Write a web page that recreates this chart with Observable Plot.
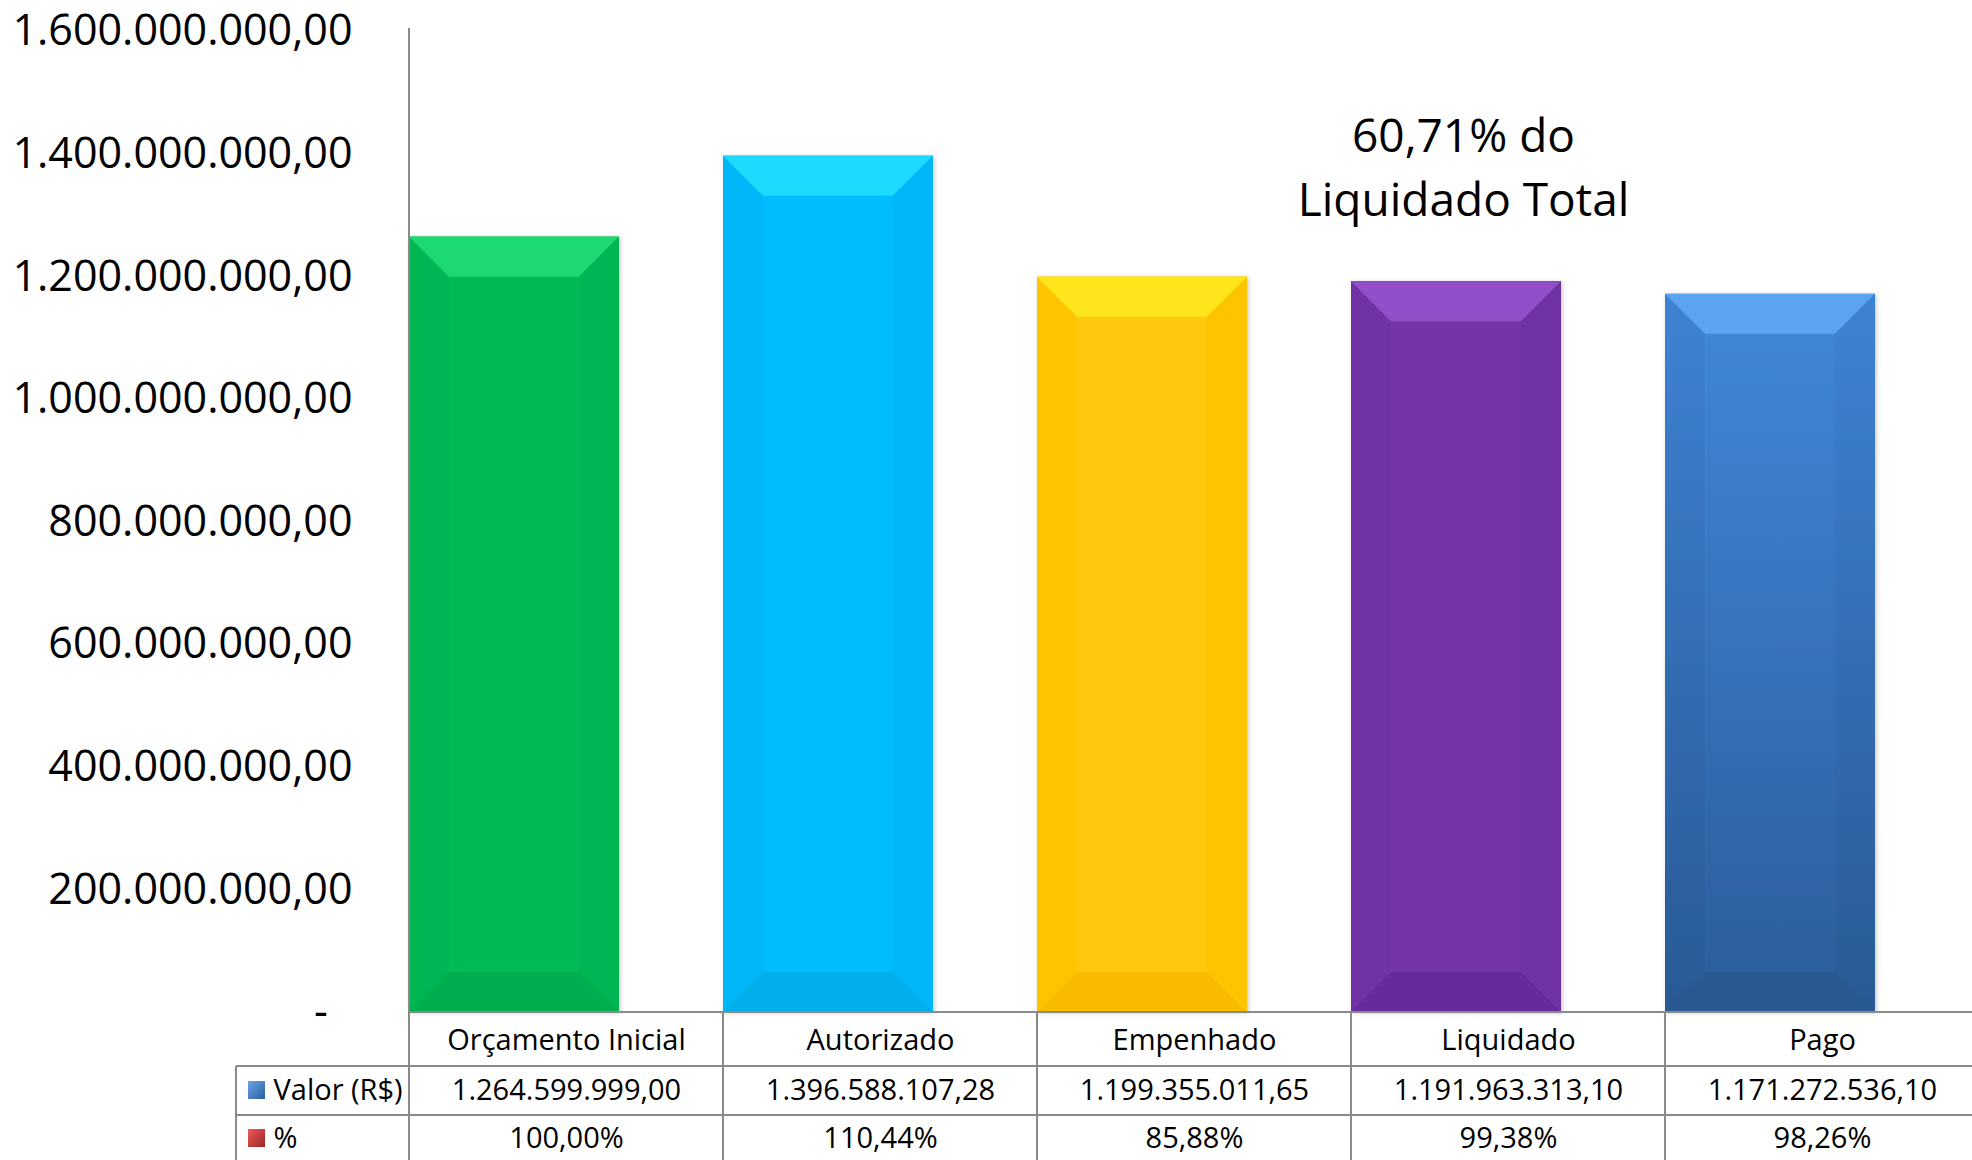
<!DOCTYPE html>
<html><head><meta charset="utf-8">
<script src="https://cdn.jsdelivr.net/npm/d3@7"></script>
<script src="https://cdn.jsdelivr.net/npm/@observablehq/plot@0.6"></script>
<style>html,body{margin:0;padding:0;background:#fff;} #chart svg{display:block;}</style>
</head><body><div id="chart"></div>
<script>
// ---- data ----
const categories = ["Orçamento Inicial", "Autorizado", "Empenhado", "Liquidado", "Pago"];
const values = [1264599999.00, 1396588107.28, 1199355011.65, 1191963313.10, 1171272536.10];
const valueLabels = ["1.264.599.999,00", "1.396.588.107,28", "1.199.355.011,65", "1.191.963.313,10", "1.171.272.536,10"];
const percentLabels = ["100,00%", "110,44%", "85,88%", "99,38%", "98,26%"];
const yTicks = [0, 200000000, 400000000, 600000000, 800000000, 1000000000, 1200000000, 1400000000, 1600000000];
const rowLabels = ["Valor (R$)", "%"];
const annotation = "60,71% do\nLiquidado Total";

// ---- styles ----
const mainColors   = ["#06BA56", "#06BDFD", "#FFCA08", "#7535A8", "#3F86D8"];
const topColors    = ["#1FD973", "#1EDBFF", "#FFE61A", "#9150C9", "#5CA3F2"];
const sideColors   = ["#04B553", "#04B6F6", "#FEC406", "#7131A3", "url(#pagoSide)"];
const bottomColors = ["#01AD4F", "#03AFE9", "#F8BB06", "#66299A", "#2A5891"];
const centerFills  = ["#06BA56", "#06BDFD", "#FFCA08", "#7535A8", "url(#pagoMain)"];
const gridColor = "#8a8a8a";
const FONT = "'Open Sans', sans-serif";
const barFrac = 0.668, bev = 40;

const fmt = d => d === 0 ? "-\u2007" :
  d3.format(",.2f")(d).replace(/,/g, "_").replace(/\./g, ",").replace(/_/g, ".");

const ns = "http://www.w3.org/2000/svg";
function el(tag, attrs, parent) {
  const e = document.createElementNS(ns, tag);
  for (const k in attrs) e.setAttribute(k, attrs[k]);
  if (parent) parent.appendChild(e);
  return e;
}

function bevelBars(index, scales, chan, dims) {
  const {x, y} = scales;
  const bw = x.bandwidth();
  const g = el("g", {});
  const defs = el("defs", {}, g);
  const gm = el("linearGradient", {id: "pagoMain", x1: 0, y1: 0, x2: 0, y2: 1}, defs);
  el("stop", {offset: "0", "stop-color": "#4189DB"}, gm);
  el("stop", {offset: "1", "stop-color": "#2C5C9A"}, gm);
  const gs = el("linearGradient", {id: "pagoSide", x1: 0, y1: 0, x2: 0, y2: 1}, defs);
  el("stop", {offset: "0", "stop-color": "#3D83D4"}, gs);
  el("stop", {offset: "1", "stop-color": "#2A5995"}, gs);
  const f = el("filter", {id: "shadow", x: "-5%", y: "-5%", width: "110%", height: "110%"}, defs);
  el("feDropShadow", {dx: 1.5, dy: 1, stdDeviation: 2, "flood-color": "#000", "flood-opacity": 0.22}, f);
  categories.forEach((c, i) => {
    const x0 = x(c), x1 = x0 + bw * barFrac, yT = y(values[i]), yB = y(0);
    const bg = el("g", {filter: "url(#shadow)"}, g);
    const pts = a => a.map(p => p.join(",")).join(" ");
    el("rect", {x: x0, y: yT, width: x1 - x0, height: yB - yT, fill: centerFills[i]}, bg);
    el("polygon", {points: pts([[x0, yT], [x0 + bev, yT + bev], [x0 + bev, yB - bev], [x0, yB]]), fill: sideColors[i]}, bg);
    el("polygon", {points: pts([[x1, yT], [x1 - bev, yT + bev], [x1 - bev, yB - bev], [x1, yB]]), fill: sideColors[i]}, bg);
    el("polygon", {points: pts([[x0, yT], [x1, yT], [x1 - bev, yT + bev], [x0 + bev, yT + bev]]), fill: topColors[i]}, bg);
    el("polygon", {points: pts([[x0, yB], [x0 + bev, yB - bev], [x1 - bev, yB - bev], [x1, yB]]), fill: bottomColors[i]}, bg);
  });
  return g;
}

function tableGrid(index, scales, chan, dims) {
  const {x, y} = scales;
  const {width, height} = dims;
  const g = el("g", {stroke: gridColor, "stroke-width": 2, fill: "none"});
  const y0 = y(0), left = x(categories[0]);
  const tableLeft = left - 173;
  const r1 = y0 + 54, r2 = y0 + 103;
  el("line", {x1: left, x2: left, y1: y(1600000000) - 3, y2: height}, g);
  el("line", {x1: left, x2: width, y1: y0, y2: y0}, g);
  categories.slice(1).forEach(c => el("line", {x1: x(c), x2: x(c), y1: y0, y2: height}, g));
  el("line", {x1: tableLeft, x2: width, y1: r1, y2: r1}, g);
  el("line", {x1: tableLeft, x2: width, y1: r2, y2: r2}, g);
  el("line", {x1: tableLeft, x2: tableLeft, y1: r1, y2: height}, g);
  const defs = el("defs", {}, g);
  const kb = el("linearGradient", {id: "keyBlue", x1: 0, y1: 0, x2: 1, y2: 1}, defs);
  el("stop", {offset: "0", "stop-color": "#6AA6E8"}, kb);
  el("stop", {offset: "1", "stop-color": "#2B5E9E"}, kb);
  const kr = el("linearGradient", {id: "keyRed", x1: 0, y1: 0, x2: 1, y2: 1}, defs);
  el("stop", {offset: "0", "stop-color": "#EE5A5A"}, kr);
  el("stop", {offset: "1", "stop-color": "#9E2424"}, kr);
  el("rect", {x: tableLeft + 12, y: y0 + 69, width: 17, height: 18, fill: "url(#keyBlue)", stroke: "none"}, g);
  el("rect", {x: tableLeft + 12, y: y0 + 117, width: 17, height: 18, fill: "url(#keyRed)", stroke: "none"}, g);
  return g;
}

const chart = Plot.plot({
  width: 1972,
  height: 1160,
  marginLeft: 408,
  marginRight: 0,
  marginTop: 31,
  marginBottom: 148,
  style: {fontFamily: FONT, fontSize: "43px", color: "#000", background: "#fff"},
  x: {type: "band", domain: categories, range: [408, 1980], padding: 0, axis: null},
  y: {domain: [0, 1600000000], range: [1012, 31], ticks: yTicks, tickFormat: fmt,
      tickSize: 0, tickPadding: 56, label: null},
  color: {domain: categories, range: mainColors},
  marks: [
    Plot.barY(categories.map((c, i) => ({c, v: values[i]})), {x: "c", y: "v", fill: "c", insetRight: 104}),
    bevelBars,
    tableGrid,
    Plot.text(categories, {x: d => d, text: d => d, frameAnchor: "bottom", dy: 37, fontSize: 29, fill: "#000"}),
    Plot.text(categories, {x: d => d, text: (d, i) => valueLabels[i], frameAnchor: "bottom", dy: 87, fontSize: 29, fill: "#000"}),
    Plot.text(categories, {x: d => d, text: (d, i) => percentLabels[i], frameAnchor: "bottom", dy: 135, fontSize: 29, fill: "#000"}),
    Plot.text([rowLabels[0]], {text: d => d, frameAnchor: "bottom-left", textAnchor: "start", dx: -135, dy: 87, fontSize: 29, fill: "#000"}),
    Plot.text([rowLabels[1]], {text: d => d, frameAnchor: "bottom-left", textAnchor: "start", dx: -135, dy: 135, fontSize: 29, fill: "#000"}),
    Plot.text([annotation], {x: () => "Liquidado", text: d => d, frameAnchor: "top", dx: -45, dy: 132,
      lineAnchor: "middle", lineHeight: 1.39, fontSize: 46, fill: "#000"})
  ]
});
document.getElementById("chart").appendChild(chart);
</script>
</body></html>
